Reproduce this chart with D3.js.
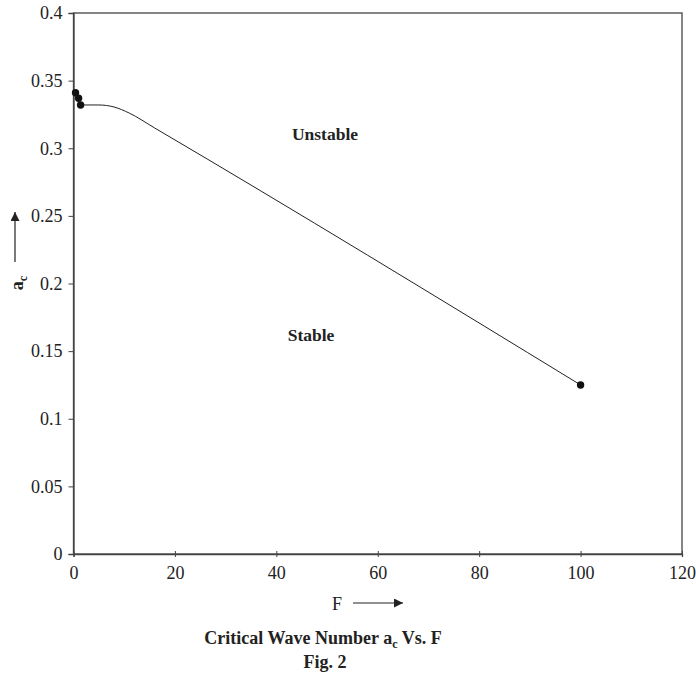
<!DOCTYPE html>
<html><head><meta charset="utf-8">
<script src="https://cdn.jsdelivr.net/npm/d3@7"></script>
<style>body{margin:0;background:#fff}svg{display:block}text{font-family:"Liberation Serif","Times New Roman",serif;fill:#222}</style>
</head><body>
<script>
const markerF = [0.4, 1.0, 1.4, 100];
const markerA = [0.341, 0.337, 0.332, 0.125];
const lineF = [1.4, 5, 8, 11, 16, 100];
const lineA = [0.332, 0.332, 0.3305, 0.326, 0.315, 0.125];
const xTicks = [0, 20, 40, 60, 80, 100, 120];
const yTicks = [0, 0.05, 0.1, 0.15, 0.2, 0.25, 0.3, 0.35, 0.4];

const W = 696, H = 673;
const svg = d3.select("body").append("svg").attr("width", W).attr("height", H);
const x = d3.scaleLinear().domain([0, 120]).range([73.5, 682]);
const y = d3.scaleLinear().domain([0, 0.4]).range([554, 13]);
const stroke = "#444";

svg.append("defs").append("marker").attr("id","ah").attr("viewBox","0 0 10 10")
  .attr("refX",10).attr("refY",5).attr("markerWidth",9).attr("markerHeight",9)
  .attr("markerUnits","userSpaceOnUse").attr("orient","auto")
  .append("path").attr("d","M0,0L10,5L0,10z").attr("fill","#222");

svg.append("rect").attr("x", x(0)).attr("y", y(0.4)).attr("width", x(120)-x(0)).attr("height", y(0)-y(0.4))
  .attr("fill","none").attr("stroke", stroke).attr("stroke-width",1.3);

const xa = svg.append("g").attr("transform",`translate(0,${y(0)})`)
  .call(d3.axisBottom(x).tickValues(xTicks).tickSize(3).tickPadding(9).tickFormat(d3.format("d")));
xa.selectAll(".tick line").attr("y1",-3).attr("stroke",stroke);
const ya = svg.append("g").attr("transform",`translate(${x(0)},0)`)
  .call(d3.axisLeft(y).tickValues(yTicks).tickSize(5).tickPadding(6).tickFormat(d => d===0?"0":String(d)));
ya.selectAll(".tick line").attr("stroke",stroke);
svg.selectAll(".domain").attr("stroke",stroke).attr("stroke-width",1.3);
svg.selectAll(".tick text").attr("font-size",18).attr("font-family","Liberation Serif").attr("fill","#222");

const pts = lineF.map((f,i)=>[f,lineA[i]]);
svg.append("path").datum(pts).attr("fill","none").attr("stroke","#222").attr("stroke-width",1)
  .attr("d", d3.line().x(d=>x(d[0])).y(d=>y(d[1])).curve(d3.curveMonotoneX));

svg.selectAll("circle.m").data(markerF.map((f,i)=>[f,markerA[i]])).enter().append("circle")
  .attr("cx",d=>x(d[0])).attr("cy",d=>y(d[1])).attr("r",3.7).attr("fill","#111");

svg.append("text").attr("x",325).attr("y",140).attr("text-anchor","middle").attr("font-size",17.5).attr("font-weight","bold").text("Unstable");
svg.append("text").attr("x",311).attr("y",341).attr("text-anchor","middle").attr("font-size",17.5).attr("font-weight","bold").text("Stable");

svg.append("text").attr("x",337).attr("y",610).attr("text-anchor","middle").attr("font-size",18).text("F");
svg.append("line").attr("x1",353).attr("x2",403).attr("y1",603).attr("y2",603).attr("stroke","#222").attr("stroke-width",1.2).attr("marker-end","url(#ah)");

const yl = svg.append("text").attr("transform","translate(23,283) rotate(-90)").attr("text-anchor","middle").attr("font-size",18).attr("font-weight","bold");
yl.append("tspan").text("a");
yl.append("tspan").attr("font-size",12).attr("dy",4).text("c");
svg.append("line").attr("x1",15).attr("x2",15).attr("y1",262).attr("y2",212).attr("stroke","#222").attr("stroke-width",1.2).attr("marker-end","url(#ah)");

const t = svg.append("text").attr("x",323).attr("y",644).attr("text-anchor","middle").attr("font-size",18).attr("font-weight","bold");
t.append("tspan").text("Critical Wave Number a");
t.append("tspan").attr("font-size",12).attr("dy",4).text("c");
t.append("tspan").attr("dy",-4).text(" Vs. F");
svg.append("text").attr("x",325).attr("y",668).attr("text-anchor","middle").attr("font-size",18).attr("font-weight","bold").text("Fig. 2");
</script>
</body></html>
